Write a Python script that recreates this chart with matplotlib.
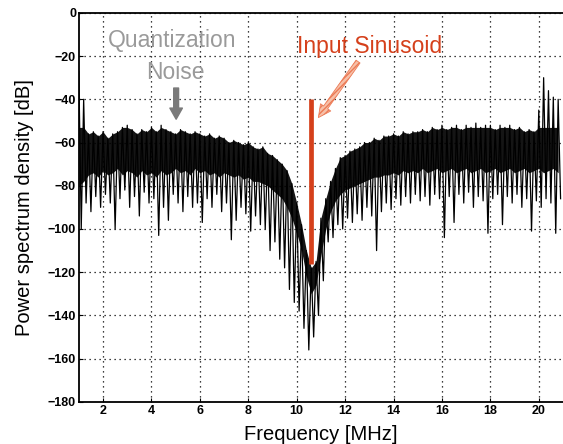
import numpy as np
import matplotlib
matplotlib.use("Agg")
import matplotlib.pyplot as plt

plt.rcParams['font.family'] = ['Liberation Sans', 'DejaVu Sans']

# upper ends of the spectrum strokes, f = 1.0, 1.2, ... 20.8 MHz
peak_db = [-27, -40, -56, -55, -57, -55, -58, -56, -55, -53,
           -52, -54, -56, -54, -55, -53, -55, -52, -54, -55,
           -56, -54, -55, -56, -55, -56, -57, -56, -58, -57,
           -58, -60, -59, -60, -61, -60, -62, -63, -62, -65,
           -66, -68, -70, -73, -79, -88, -98, -110, -118, -115,
           -95, -86, -78, -72, -67, -66, -64, -63, -62, -60,
           -60, -58, -59, -57, -57, -56, -57, -55, -56, -55,
           -55, -54, -55, -53, -54, -52, -54, -53, -52, -54,
           -52, -53, -51, -53, -52, -52, -54, -52, -53, -52,
           -54, -53, -55, -54, -55, -45, -30, -36, -39, -40]

# lower edge of the solid dark band, same frequencies as peak_db
core_db = [-80, -78, -75, -74, -76, -73, -75, -74, -72, -75,
           -73, -74, -76, -73, -75, -74, -76, -73, -75, -74,
           -72, -74, -73, -75, -72, -74, -73, -75, -74, -76,
           -74, -75, -76, -75, -77, -76, -78, -78, -79, -80,
           -82, -84, -86, -90, -95, -102, -110, -122, -130, -126,
           -112, -100, -92, -87, -84, -82, -81, -80, -79, -78,
           -77, -76, -76, -75, -75, -74, -75, -73, -74, -73,
           -74, -72, -74, -73, -72, -74, -73, -72, -74, -73,
           -72, -74, -73, -72, -74, -73, -72, -74, -73, -72,
           -74, -73, -72, -74, -73, -72, -74, -73, -72, -74]

# lower ends of the strokes, f = 1.1, 1.3, ... 20.9 MHz
dip_db = [-100, -88, -92, -85, -90, -84, -88, -100, -86, -82,
          -90, -85, -94, -83, -88, -86, -103, -90, -96, -84,
          -88, -92, -85, -90, -88, -97, -86, -90, -84, -92,
          -88, -105, -96, -90, -93, -101, -94, -98, -100, -110,
          -106, -114, -118, -128, -134, -138, -146, -156, -150, -140,
          -124, -106, -104, -98, -100, -95, -97, -93, -96, -90,
          -94, -110, -92, -88, -91, -86, -89, -85, -88, -84,
          -87, -85, -89, -84, -86, -104, -85, -97, -84, -88,
          -83, -90, -85, -87, -102, -86, -84, -98, -85, -88,
          -84, -90, -86, -101, -87, -90, -86, -88, -102, -86]

tone_freq = 10.58
tone_top = -40
tone_bottom = -116

peak_f = np.round(1.0 + 0.2 * np.arange(len(peak_db)), 2)
dip_f = peak_f + 0.1

# interleave tops and bottoms into one zigzag trace
trace_f = np.column_stack([peak_f, dip_f]).ravel()
trace_db = np.column_stack([peak_db, dip_db]).ravel()

fig = plt.figure(figsize=(5.63, 4.44), dpi=100)
ax = fig.add_axes([0.140, 0.095, 0.860, 0.876])

# dense band only up to the noise floor top, the isolated spikes stay thin
band_top = np.minimum(peak_db, -53)
ax.fill_between(peak_f, band_top, core_db, color='#151515', lw=0)
ax.plot(trace_f, trace_db, color='black', lw=0.9)
ax.vlines(tone_freq, tone_bottom, tone_top, color='#d5401b', lw=3.4, zorder=5)

ax.set_xlim(1, 21)
ax.set_ylim(-180, 0)
ax.set_xticks(np.arange(2, 21, 2))
ax.set_yticks(np.arange(-180, 1, 20))
ax.grid(True, color='black', ls=(0, (1, 3)), lw=0.9)
ax.tick_params(direction='in', length=3, labelsize=9, pad=2)
for lab in ax.get_xticklabels() + ax.get_yticklabels():
    lab.set_fontweight('bold')
for s in ['left', 'bottom', 'top']:
    ax.spines[s].set_linewidth(1.3)
ax.spines['right'].set_visible(False)

ax.set_xlabel('Frequency [MHz]', fontsize=14.5, labelpad=6)
ax.set_ylabel('Power spectrum density [dB]', fontsize=14.5, labelpad=10)

ax.text(4.86, -13, 'Quantization', color='#9a9a9a', fontsize=16.5,
        ha='center', va='center')
ax.text(5.0, -27.5, 'Noise', color='#9a9a9a', fontsize=16.5,
        ha='center', va='center')
ax.annotate('', xy=(5.02, -50.5), xytext=(5.02, -33.5),
            arrowprops=dict(arrowstyle='simple,head_width=0.9,head_length=0.8,tail_width=0.35',
                            color='#7a7a7a'))

ax.text(13.0, -15.5, 'Input Sinusoid', color='#d5401b', fontsize=16.5,
        ha='center', va='center')
ax.annotate('', xy=(10.83, -49.5), xytext=(12.6, -21.5),
            arrowprops=dict(arrowstyle='simple,head_width=0.9,head_length=0.9,tail_width=0.35',
                            fc='#f7c0a8', ec='#ec7a55', lw=0.6, hatch='//////'))

fig.savefig('out.png', dpi=100)
